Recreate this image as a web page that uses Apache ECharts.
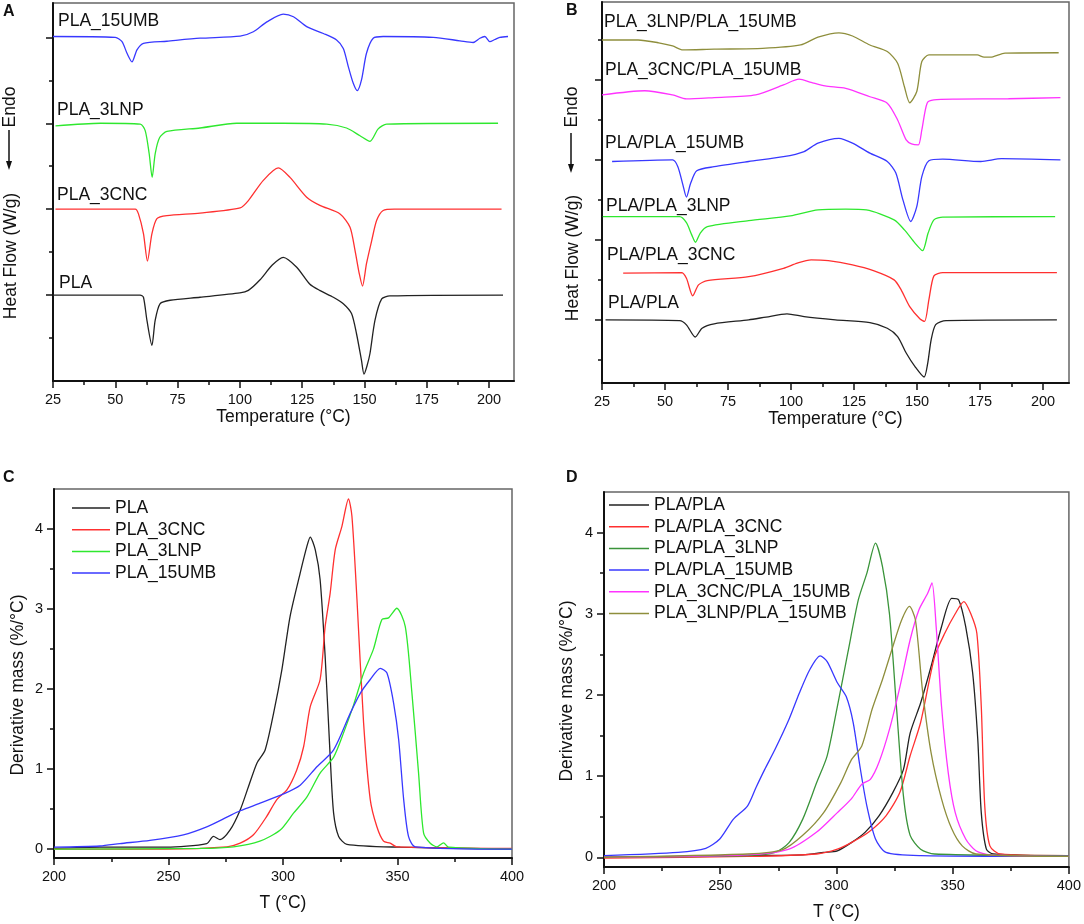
<!DOCTYPE html>
<html>
<head>
<meta charset="utf-8">
<script src="https://cdn.jsdelivr.net/npm/echarts@6/dist/echarts.min.js"></script>
<style>
html, body { margin: 0; padding: 0; background: #fff; }
#chart { width: 1084px; height: 924px; }
</style>
</head>
<body>
<div id="chart"></div>
<script>
var FONT = 'Liberation Sans, Arial, sans-serif';
var INK = '#111';

// ---- tick values ----
var dscMajor = [25, 50, 75, 100, 125, 150, 175, 200];
var dscMinor = [37.5, 62.5, 87.5, 112.5, 137.5, 162.5, 187.5];
var aYMajor = [2, 4, 6, 8];
var aYMinor = [1, 3, 5, 7];
var bYMajor = [0, 2, 4, 6];
var bYMinor = [-1, 1, 3, 5, 7];
var tgaMajor = [200, 250, 300, 350, 400];
var tgaMinor = [225, 275, 325, 375];
var tgaYMajor = [0, 1, 2, 3, 4];
var tgaYMinor = [0.5, 1.5, 2.5, 3.5];

// ---- A: DSC, single materials (curves shifted vertically) ----
var dscA_PLA = [[25,2.0],[55,2.0],[60,2.0],[61.3,1.95],[62.7,1.41],[64.7,0.83],[66,1.41],[68,1.8],[72,1.88],[84,1.95],[100,2.05],[103.4,2.11],[108,2.35],[113,2.7],[117.4,2.88],[122.8,2.65],[128,2.26],[132,2.11],[137.5,1.95],[141.5,1.8],[144.8,1.57],[146.8,1.1],[148.8,0.48],[149.8,0.16],[151,0.35],[152.2,0.64],[154.2,1.41],[156.9,1.91],[160.2,1.98],[205.6,2.0]];
var dscA_CNC = [[26,4.0],[58,4.0],[59.3,3.89],[61.3,3.43],[62.9,2.79],[64.7,3.43],[66.7,3.78],[70.7,3.85],[84,3.91],[100.1,4.03],[103.4,4.2],[109.4,4.67],[115.4,4.96],[120.1,4.74],[126.8,4.28],[132.1,4.09],[140.2,3.89],[144.2,3.58],[146.2,3.04],[147.9,2.5],[149.2,2.21],[150.8,2.73],[152.9,3.27],[154.9,3.74],[157.5,3.97],[162,4.0],[205,4.0]];
var dscA_LNP = [[26,5.94],[44,6.0],[60,5.98],[62,5.83],[63.6,5.29],[64.8,4.74],[66,5.29],[67.8,5.67],[70.7,5.81],[84,5.89],[98.7,6.0],[117.4,6.0],[134.8,5.98],[142.8,5.89],[148.2,5.71],[152.2,5.58],[155.5,5.87],[158.9,5.98],[203.6,6.0]];
var dscA_UMB = [[25,8.02],[50,8.0],[52.7,7.9],[54.7,7.63],[56.7,7.43],[58.7,7.71],[61.3,7.86],[70.7,7.91],[84,7.98],[100.1,8.03],[105.4,8.13],[110.8,8.36],[117.4,8.54],[121.5,8.48],[126.8,8.25],[133.5,8.09],[138.8,7.94],[141.5,7.74],[143.5,7.32],[145.5,6.93],[147.1,6.76],[148.8,7.01],[150.8,7.63],[153.5,7.98],[157.5,8.02],[177.6,8.0],[188.3,7.92],[193.6,7.88],[196.3,7.98],[198.3,8.02],[200.3,7.9],[202.3,7.95],[204.3,8.0],[207.6,8.02]];

// ---- B: DSC, bilayer films ----
var dscB_PLA = [[26.4,0],[55.8,-0.02],[58.5,-0.125],[62,-0.43],[64.7,-0.21],[69.5,-0.1],[83.2,0],[90.1,0.07],[98.4,0.15],[105.2,0.08],[117.6,0],[131.3,-0.07],[138.2,-0.21],[142.3,-0.42],[145.7,-0.83],[149.2,-1.17],[152.8,-1.43],[154.2,-1.1],[155.6,-0.5],[157.4,-0.12],[161.5,-0.02],[205.5,0]];
var dscB_CNC = [[33.4,1.17],[56.5,1.18],[58.5,1.04],[61,0.6],[63.3,0.875],[66.8,0.98],[83.2,1.08],[97,1.29],[102.5,1.42],[108,1.5],[114.8,1.48],[124.4,1.375],[132.7,1.23],[140.9,1.0],[143.7,0.75],[147.1,0.33],[151.2,0.02],[153,-0.04],[154.7,0.5],[156.7,1.1],[160.2,1.18],[205.5,1.18]];
var dscB_LNP = [[25.3,2.58],[55.8,2.58],[58.5,2.43],[60.6,2.125],[62.1,1.94],[64,2.17],[66.8,2.33],[83.2,2.48],[99.7,2.6],[110.7,2.75],[121.7,2.77],[129.9,2.75],[140.9,2.5],[145,2.25],[149.2,1.92],[152.2,1.73],[154.4,2.17],[156.7,2.5],[160.2,2.57],[204.8,2.58]];
var dscB_UMB = [[29,3.96],[53,4.0],[55.1,3.83],[57.1,3.375],[58.5,3.07],[60.2,3.42],[62.6,3.73],[69.5,3.83],[83.2,3.96],[97,4.08],[105.2,4.21],[110.7,4.42],[119,4.54],[124.4,4.42],[131.3,4.17],[138.2,3.96],[141.6,3.67],[144.4,3.0],[147.5,2.46],[149.9,2.83],[151.9,3.58],[154.7,3.98],[160.2,4.02],[175.3,3.96],[183.5,4.03],[206.9,4.0]];
var dscB_CNCUMB = [[25,5.625],[42,5.73],[53,5.625],[58.5,5.525],[69.5,5.56],[86,5.625],[97,5.875],[103.2,6.02],[108,5.94],[113.5,5.85],[121.7,5.79],[131.3,5.58],[138.2,5.42],[142.3,5.0],[145.7,4.5],[147.8,4.4],[150.5,4.375],[151.9,4.75],[154,5.42],[156.7,5.5],[165.7,5.52],[186.3,5.53],[206.9,5.56]];
var dscB_LNPUMB = [[25,7.0],[39.3,7.0],[47.5,6.93],[53,6.85],[57.1,6.75],[69.5,6.77],[88.7,6.79],[103.8,6.875],[110.7,7.07],[119,7.18],[124.4,7.1],[131.3,6.875],[138.2,6.71],[142.3,6.42],[145,5.83],[147.1,5.43],[149.9,5.71],[151.9,6.46],[154.7,6.625],[173.9,6.625],[176.6,6.57],[180.1,6.58],[184.9,6.67],[206.2,6.68]];

// ---- C: DTG, single materials ----
var tgaC_PLA = [[200,0.01],[220,0.025],[249,0.025],[266.7,0.07],[269.6,0.16],[272.5,0.12],[276.9,0.24],[281.3,0.49],[284.9,0.78],[288.6,1.075],[292.2,1.24],[295.9,1.7],[299.5,2.24],[303.1,2.91],[307.5,3.45],[310.4,3.78],[311.9,3.9],[314.1,3.74],[316.2,3.37],[318.4,2.41],[320.6,1.16],[322.1,0.45],[324.3,0.16],[327.9,0.06],[351.2,0.025],[400,0]];
var tgaC_CNC = [[200,0],[249,0],[275.5,0.03],[281.3,0.075],[287.1,0.18],[292.9,0.41],[297.3,0.62],[301.7,0.74],[306,0.99],[309,1.28],[311.9,1.78],[316.2,2.12],[318.4,2.78],[320.6,3.2],[322.8,3.74],[325.7,4.03],[328.6,4.375],[330.1,4.16],[332.3,3.12],[335.2,1.575],[338.1,0.62],[341,0.28],[343.9,0.1],[346.8,0.075],[349.7,0.03],[400,0.01]];
var tgaC_LNP = [[200,0],[263.8,0.01],[278.4,0.03],[289.9,0.1],[298.8,0.24],[304.6,0.45],[310.4,0.65],[316.2,0.95],[322.1,1.15],[326.4,1.45],[330.8,1.8],[335.2,2.2],[339.5,2.5],[343.2,2.87],[346.1,2.89],[349.7,3.01],[353.4,2.78],[356.3,1.95],[359.2,0.95],[361.4,0.2],[364.3,0.075],[367.2,0.03],[370.1,0.08],[372.3,0.025],[400,0]];
var tgaC_UMB = [[200,0.025],[220.1,0.04],[228.8,0.07],[241.9,0.11],[256.5,0.18],[266.7,0.28],[275.5,0.4],[281.3,0.48],[290,0.575],[300.2,0.69],[307.5,0.8],[314.8,1.03],[322.1,1.24],[329.4,1.7],[333.8,1.95],[338.1,2.12],[342.5,2.26],[345.4,2.2],[348.3,1.825],[350.5,1.37],[352.7,0.62],[354.8,0.16],[357.8,0.03],[400,0]];

// ---- D: DTG, bilayer films ----
var tgaD_PLA = [[200,0],[261.7,0.02],[285.5,0.03],[294.5,0.06],[300.4,0.08],[306.4,0.18],[312.4,0.31],[318.3,0.51],[324.3,0.8],[328.8,1.08],[331.7,1.53],[336.2,1.9],[340.7,2.35],[345.2,2.84],[349.6,3.19],[352.6,3.17],[355.6,2.84],[358.6,2.27],[360.8,1.45],[362.3,0.55],[364.5,0.1],[367.5,0.04],[400,0.01]];
var tgaD_CNC = [[200,-0.01],[261.7,0.01],[291.5,0.04],[300.4,0.1],[306.4,0.18],[313.9,0.31],[321.3,0.51],[327.3,0.8],[331.7,1.25],[336.2,1.66],[342.2,2.47],[346.6,2.76],[351.1,3.0],[354.8,3.15],[357.8,3.0],[360.4,2.76],[362.3,1.86],[363.8,0.63],[366,0.14],[370.5,0.04],[400,0.02]];
var tgaD_LNP = [[200,0],[261.7,0.02],[273.6,0.06],[279.6,0.18],[285.5,0.47],[291.5,0.92],[296,1.25],[300.4,1.86],[304.9,2.52],[309.4,3.17],[313.1,3.5],[316.8,3.87],[319.8,3.58],[322.8,3.0],[325.8,1.86],[328.8,0.76],[331.7,0.27],[336.2,0.1],[342.2,0.04],[400,0.02]];
var tgaD_UMB = [[200,0.02],[231.9,0.06],[243.8,0.11],[249.8,0.225],[255.7,0.47],[261.7,0.63],[265.4,0.86],[269.1,1.08],[273.6,1.33],[279.6,1.7],[284,2.02],[288.5,2.31],[293,2.48],[296,2.41],[300.4,2.15],[304.2,1.98],[307.2,1.66],[310.1,1.12],[313.1,0.63],[316.8,0.225],[321.3,0.06],[336.2,0.02],[400,0.01]];
var tgaD_CNCUMB = [[200,0],[261.7,0.03],[279.6,0.1],[291.5,0.31],[300.4,0.55],[306.4,0.72],[310.9,0.9],[314.6,0.96],[318.3,1.17],[322.8,1.575],[327.3,2.1],[331.7,2.68],[335.5,3.05],[339.2,3.25],[341.1,3.38],[342.9,2.84],[345.2,1.86],[348.1,1.04],[351.1,0.55],[355.6,0.225],[360,0.08],[366,0.03],[400,0.01]];
var tgaD_LNPUMB = [[200,0],[261.7,0.04],[276.6,0.09],[285.5,0.27],[294.5,0.55],[301.9,0.92],[306.4,1.2],[310.9,1.37],[315.3,1.82],[319.8,2.19],[324.3,2.6],[328,2.92],[331.4,3.09],[334,2.92],[337,2.06],[340.7,1.29],[345.2,0.72],[349.6,0.35],[354.1,0.14],[360,0.04],[400,0.01]];

var namesC = ['PLA', 'PLA_3CNC', 'PLA_3LNP', 'PLA_15UMB'];
var namesD = ['PLA/PLA', 'PLA/PLA_3CNC', 'PLA/PLA_3LNP', 'PLA/PLA_15UMB', 'PLA_3CNC/PLA_15UMB', 'PLA_3LNP/PLA_15UMB'];

var C_BLACK = '#222', C_RED = '#ff3030', C_GREEN = '#2ee82e', C_BLUE = '#3838ff',
    C_MAG = '#ff33ff', C_OLIVE = '#8e8e3c', C_DKGREEN = '#3a943a';

var grids = [
  { left: 53, top: 3, width: 461, height: 378 },
  { left: 602, top: 2, width: 467, height: 381 },
  { left: 54, top: 489, width: 458, height: 369 },
  { left: 604, top: 492, width: 466, height: 375 }
];
grids.forEach(function (g) {
  g.show = true;
  g.borderColor = '#666';
  g.borderWidth = 1.5;
});

var xAxes = [], yAxes = [];
function addAxes(list, dim, gi, min, max, major, minor, labels, name, gap) {
  var main = {
    type: 'value', gridIndex: gi, min: min, max: max,
    position: dim === 'x' ? 'bottom' : 'left',
    axisLine: { onZero: false, lineStyle: { color: INK, width: 2 } },
    axisTick: { customValues: major, length: 7, lineStyle: { color: INK, width: 1.5 } },
    axisLabel: labels
      ? { customValues: major, color: INK, fontSize: 14.5, fontFamily: FONT, margin: 11 }
      : { show: false },
    splitLine: { show: false }
  };
  if (name) {
    main.name = name;
    main.nameLocation = 'middle';
    main.nameGap = gap;
    main.nameTextStyle = { color: INK, fontSize: 17.5, fontFamily: FONT };
  }
  var sub = {
    type: 'value', gridIndex: gi, min: min, max: max,
    position: dim === 'x' ? 'bottom' : 'left',
    axisLine: { show: false, onZero: false },
    axisTick: { customValues: minor, length: 4, lineStyle: { color: INK, width: 1.5 } },
    axisLabel: { show: false },
    splitLine: { show: false }
  };
  list.push(main, sub);
}

addAxes(xAxes, 'x', 0, 25, 210, dscMajor, dscMinor, true, 'Temperature (°C)', 24);
addAxes(yAxes, 'y', 0, 0, 8.8, aYMajor, aYMinor, false);
addAxes(xAxes, 'x', 1, 25, 210.3, dscMajor, dscMinor, true, 'Temperature (°C)', 22);
addAxes(yAxes, 'y', 1, -1.58, 7.95, bYMajor, bYMinor, false);
addAxes(xAxes, 'x', 2, 200, 400, tgaMajor, tgaMinor, true, 'T (°C)', 36);
addAxes(yAxes, 'y', 2, -0.11, 4.5, tgaYMajor, tgaYMinor, true);
addAxes(xAxes, 'x', 3, 200, 400, tgaMajor, tgaMinor, true, 'T (°C)', 36);
addAxes(yAxes, 'y', 3, -0.12, 4.5, tgaYMajor, tgaYMinor, true);

function curve(name, data, g, color) {
  return {
    name: name, type: 'line', xAxisIndex: 2 * g, yAxisIndex: 2 * g,
    data: data, showSymbol: false, symbol: 'none', smooth: 0.25,
    lineStyle: { color: color, width: 1.3 }, itemStyle: { color: color },
    emphasis: { disabled: true }, silent: true
  };
}

var series = [
  curve('A PLA', dscA_PLA, 0, C_BLACK),
  curve('A PLA_3CNC', dscA_CNC, 0, C_RED),
  curve('A PLA_3LNP', dscA_LNP, 0, C_GREEN),
  curve('A PLA_15UMB', dscA_UMB, 0, C_BLUE),
  curve('B PLA/PLA', dscB_PLA, 1, C_BLACK),
  curve('B PLA/PLA_3CNC', dscB_CNC, 1, C_RED),
  curve('B PLA/PLA_3LNP', dscB_LNP, 1, C_GREEN),
  curve('B PLA/PLA_15UMB', dscB_UMB, 1, C_BLUE),
  curve('B PLA_3CNC/PLA_15UMB', dscB_CNCUMB, 1, C_MAG),
  curve('B PLA_3LNP/PLA_15UMB', dscB_LNPUMB, 1, C_OLIVE),
  curve(namesC[0], tgaC_PLA, 2, C_BLACK),
  curve(namesC[1], tgaC_CNC, 2, C_RED),
  curve(namesC[2], tgaC_LNP, 2, C_GREEN),
  curve(namesC[3], tgaC_UMB, 2, C_BLUE),
  curve(namesD[0], tgaD_PLA, 3, C_BLACK),
  curve(namesD[1], tgaD_CNC, 3, C_RED),
  curve(namesD[2], tgaD_LNP, 3, C_DKGREEN),
  curve(namesD[3], tgaD_UMB, 3, C_BLUE),
  curve(namesD[4], tgaD_CNCUMB, 3, C_MAG),
  curve(namesD[5], tgaD_LNPUMB, 3, C_OLIVE)
];

function legendAt(names, left, top, w) {
  return {
    data: names, orient: 'vertical', left: left, top: top, padding: 0,
    itemWidth: w, itemHeight: 1.5, itemGap: 1.7, icon: 'rect', selectedMode: false,
    textStyle: { color: INK, fontSize: 17.5, fontFamily: FONT, lineHeight: 20 }
  };
}

function txt(s, x, y, size, bold) {
  return {
    type: 'text', x: x, y: y, silent: true,
    style: { text: s, fill: INK, fontSize: size, fontFamily: FONT,
             fontWeight: bold ? 'bold' : 'normal', align: 'left', verticalAlign: 'middle' }
  };
}
function vtxt(s, x, y) {
  return {
    type: 'text', x: x, y: y, rotation: Math.PI / 2, silent: true,
    style: { text: s, fill: INK, fontSize: 17.5, fontFamily: FONT, align: 'center', verticalAlign: 'middle' }
  };
}
function arrowDown(x, y1, y2) {
  return [
    { type: 'line', silent: true, shape: { x1: x, y1: y1, x2: x, y2: y2 - 6 }, style: { stroke: INK, lineWidth: 1.5 } },
    { type: 'polygon', silent: true, shape: { points: [[x - 3, y2 - 9], [x + 3, y2 - 9], [x, y2]] }, style: { fill: INK } }
  ];
}

var graphic = [
  txt('A', 3, 12, 16, true),
  txt('B', 566, 11, 16, true),
  txt('C', 3, 478, 16, true),
  txt('D', 566, 478, 16, true),
  txt('PLA_15UMB', 58, 21, 17.5),
  txt('PLA_3LNP', 57, 110, 17.5),
  txt('PLA_3CNC', 57, 195, 17.5),
  txt('PLA', 59, 283, 17.5),
  txt('PLA_3LNP/PLA_15UMB', 604, 22, 17.5),
  txt('PLA_3CNC/PLA_15UMB', 605, 70, 17.5),
  txt('PLA/PLA_15UMB', 605, 143, 17.5),
  txt('PLA/PLA_3LNP', 606, 206, 17.5),
  txt('PLA/PLA_3CNC', 607, 255, 17.5),
  txt('PLA/PLA', 608, 303, 17.5),
  vtxt('Heat Flow (W/g)', 11, 256),
  vtxt('Endo', 10, 107),
  vtxt('Heat Flow (W/g)', 573, 258),
  vtxt('Endo', 572, 107),
  vtxt('Derivative mass (%/°C)', 18, 685),
  vtxt('Derivative mass (%/°C)', 567, 691)
].concat(arrowDown(9, 130, 170), arrowDown(571, 133, 173));

var chart = echarts.init(document.getElementById('chart'), null, { renderer: 'canvas' });
chart.setOption({
  animation: false,
  backgroundColor: '#fff',
  textStyle: { fontFamily: FONT },
  grid: grids,
  xAxis: xAxes,
  yAxis: yAxes,
  legend: [legendAt(namesC, 72, 498, 38), legendAt(namesD, 609, 495, 40)],
  graphic: graphic,
  series: series
});
</script>
</body>
</html>
